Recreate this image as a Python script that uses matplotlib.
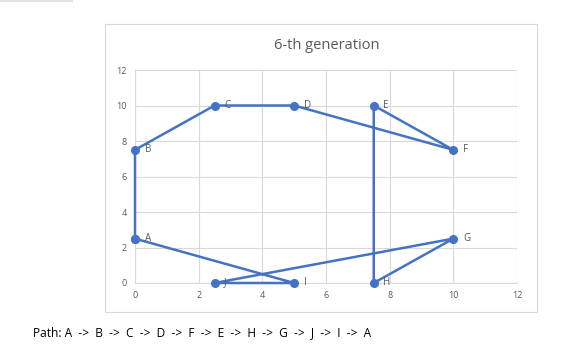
import matplotlib.pyplot as plt
from matplotlib.patches import Rectangle

# points of the tour, in path order
names = ['A', 'B', 'C', 'D', 'F', 'E', 'H', 'G', 'J', 'I', 'A']
xs = [0, 0, 2.5, 5, 10, 7.5, 7.5, 10, 2.5, 5, 0]
ys = [2.5, 7.5, 10, 10, 7.5, 10, 0, 2.5, 0, 0, 2.5]
ticks = [0, 2, 4, 6, 8, 10, 12]

blue = '#4472C4'
grey = '#595959'
plt.rcParams['font.family'] = ['Open Sans', 'DejaVu Sans']

fig = plt.figure(figsize=(5.66, 3.59), dpi=100)

# chart area frame
fig.patches.append(Rectangle((0.1855, 0.131), 0.763, 0.802, transform=fig.transFigure,
                             fill=False, edgecolor='#d9d9d9', linewidth=0.8))
# little line at very top left
fig.add_artist(plt.Line2D([0.0, 0.127], [0.998, 0.998], color='#e3e3e3', linewidth=1.5))

ax = fig.add_axes([0.2385, 0.2117, 0.6749, 0.5933])
ax.plot(xs, ys, color=blue, linewidth=1.8, marker='o', markersize=5.5, zorder=3,
        clip_on=False)
for n, x, y in zip(names[:-1], xs[:-1], ys[:-1]):
    ax.annotate(n, (x, y), xytext=(7, 0), textcoords='offset points', va='center',
                ha='left', fontsize=7, color=grey)

ax.set_xlim(0, 12)
ax.set_ylim(0, 12)
ax.set_xticks(ticks)
ax.set_yticks(ticks)
ax.grid(True, color='#d9d9d9', linewidth=0.8)
ax.set_axisbelow(True)
for s in ['top', 'right']:
    ax.spines[s].set_visible(False)
for s in ['left', 'bottom']:
    ax.spines[s].set_color('#d9d9d9')
    ax.spines[s].set_linewidth(0.8)
ax.tick_params(length=0, labelsize=6.5, labelcolor=grey, pad=6)

fig.text(0.577, 0.872, '6-th generation', ha='center', va='center', fontsize=10.5, color=grey)
fig.text(0.058, 0.075, 'Path: A  ->  B  ->  C  ->  D  ->  F  ->  E  ->  H  ->  G  ->  J  ->  I  ->  A',
         ha='left', va='center', fontsize=8.6, color='black')

fig.savefig('out.png', dpi=100)
